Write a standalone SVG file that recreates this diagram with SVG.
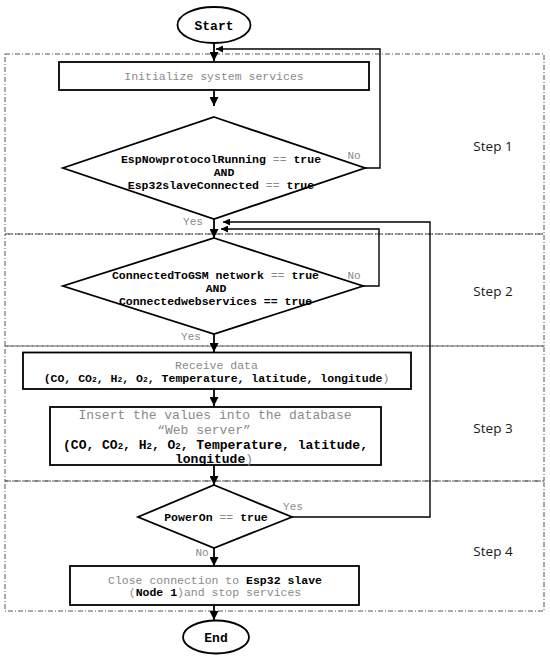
<svg xmlns="http://www.w3.org/2000/svg" width="550" height="659" viewBox="0 0 550 659">
<style>
.bg{fill:#fff}
.step{fill:none;stroke:#555;stroke-width:1;stroke-dasharray:5 2 1 2}
.shape{fill:#fff;stroke:#000;stroke-width:1.8}
.ln{fill:none;stroke:#000;stroke-width:1.8}
.fb{fill:none;stroke:#000;stroke-width:1.4}
.m{font-family:"Liberation Mono","Courier New",monospace}
.b{font-weight:bold;fill:#000}
.g{fill:#8a8a8a;font-weight:normal}
.lbl{font-family:"Liberation Mono","Courier New",monospace;font-size:11px;fill:#8a8a8a}
.st{font-family:"Open Sans","Noto Sans",sans-serif;font-size:13.5px;fill:#1a1a1a;text-anchor:middle}
.c{text-anchor:middle}
</style>
<defs>
<marker id="ah" viewBox="0 0 10 10" refX="10" refY="5" markerWidth="5" markerHeight="5" markerUnits="strokeWidth" orient="auto">
<path d="M0,0 L10,5 L0,10 z" fill="#000"/>
</marker>
<marker id="ah2" viewBox="0 0 10 10" refX="10" refY="5" markerWidth="6" markerHeight="5" markerUnits="strokeWidth" orient="auto">
<path d="M0,0 L10,5 L0,10 z" fill="#000"/>
</marker>
</defs>
<rect class="bg" x="0" y="0" width="550" height="659"/>

<g id="steps">
<rect class="step" x="5" y="54" width="539" height="180"/>
<rect class="step" x="5" y="234" width="539" height="112"/>
<rect class="step" x="5" y="346" width="539" height="135"/>
<rect class="step" x="5" y="481" width="539" height="130"/>
<text class="st" x="493" y="151">Step 1</text>
<text class="st" x="493" y="296">Step 2</text>
<text class="st" x="493" y="433">Step 3</text>
<text class="st" x="493" y="556">Step 4</text>
</g>

<g id="connectors">
<line class="ln" x1="214" y1="43" x2="214" y2="61" marker-end="url(#ah)"/>
<line class="ln" x1="214" y1="90" x2="214" y2="106" marker-end="url(#ah)"/>
<polyline class="fb" points="365,168 380,168 380,49 216,49" marker-end="url(#ah2)"/>
<line class="ln" x1="214" y1="219" x2="214" y2="238" marker-end="url(#ah)"/>
<polyline class="fb" points="363,286 379,286 379,229 221,229" marker-end="url(#ah2)"/>
<polyline class="fb" points="292,517 430,517 430,222 223,222" marker-end="url(#ah2)"/>
<line class="ln" x1="214" y1="334" x2="214" y2="352" marker-end="url(#ah)"/>
<line class="ln" x1="214" y1="389" x2="214" y2="406" marker-end="url(#ah)"/>
<line class="ln" x1="214" y1="465" x2="214" y2="485" marker-end="url(#ah)"/>
<line class="ln" x1="214" y1="548" x2="214" y2="566" marker-end="url(#ah)"/>
<line class="ln" x1="214" y1="605" x2="214" y2="620" marker-end="url(#ah)"/>
<text class="lbl" x="354" y="159" text-anchor="middle">No</text>
<text class="lbl" x="193" y="225" text-anchor="middle">Yes</text>
<text class="lbl" x="354" y="279" text-anchor="middle">No</text>
<text class="lbl" x="191" y="340" text-anchor="middle">Yes</text>
<text class="lbl" x="293" y="510" text-anchor="middle">Yes</text>
<text class="lbl" x="202" y="556" text-anchor="middle">No</text>
</g>

<g id="start">
<ellipse class="shape" cx="214" cy="25" rx="36.5" ry="18"/>
<text class="m b c" x="214" y="29.5" font-size="13">Start</text>
</g>

<g id="init">
<rect class="shape" x="59" y="62" width="310" height="28"/>
<text class="m g c" x="214" y="80" font-size="11.5">Initialize system services</text>
</g>

<g id="decision1">
<polygon class="shape" points="214,117 365,168 214,219 63,168"/>
<text class="m b c" x="221" y="163" font-size="11.5">EspNowprotocolRunning <tspan class="g">==</tspan> true</text>
<text class="m b c" x="224" y="176" font-size="11.5">AND</text>
<text class="m b c" x="221" y="189" font-size="11.5">Esp32slaveConnected <tspan class="g">==</tspan> true</text>
</g>

<g id="decision2">
<polygon class="shape" points="214,238 363,286 214,334 63,286"/>
<text class="m b c" x="215.5" y="279" font-size="11.5">ConnectedToGSM network <tspan class="g">==</tspan> true</text>
<text class="m b c" x="216" y="292" font-size="11.5">AND</text>
<text class="m b c" x="215.5" y="305" font-size="11.5">Connectedwebservices == true</text>
</g>

<g id="receive">
<rect class="shape" x="23" y="352.5" width="388" height="36.5"/>
<text class="m g c" x="216.5" y="369" font-size="11.5">Receive data</text>
<text class="m b c" x="216.5" y="381.5" font-size="11.5">(CO, CO<tspan font-size="8">2</tspan>, H<tspan font-size="8">2</tspan>, O<tspan font-size="8">2</tspan>, Temperature, latitude, longitude<tspan class="g">)</tspan></text>
</g>

<g id="insert">
<rect class="shape" x="50" y="407" width="331" height="58"/>
<text class="m g c" x="215" y="419" font-size="13">Insert the values into the database</text>
<text class="m g c" x="204" y="433.5" font-size="13">“Web server”</text>
<text class="m b c" x="215.5" y="448.5" font-size="13">(CO, CO<tspan font-size="9">2</tspan>, H<tspan font-size="9">2</tspan>, O<tspan font-size="9">2</tspan>, Temperature, latitude,</text>
<text class="m b c" x="214" y="462.5" font-size="13">longitude<tspan class="g">)</tspan></text>
</g>

<g id="decision3">
<polygon class="shape" points="214,485 292,517 214,548 138,517"/>
<text class="m b c" x="216" y="521" font-size="11.5">PowerOn <tspan class="g">==</tspan> true</text>
</g>

<g id="close">
<rect class="shape" x="70" y="566" width="289" height="39"/>
<text class="m g c" x="215" y="584" font-size="11.5">Close connection to <tspan class="b">Esp32 slave</tspan></text>
<text class="m g c" x="215" y="596" font-size="11.5">(<tspan class="b">Node 1</tspan>)and stop services</text>
</g>

<g id="end">
<ellipse class="shape" cx="216" cy="637" rx="33" ry="16.5"/>
<text class="m b c" x="216" y="641.5" font-size="13">End</text>
</g>
</svg>
